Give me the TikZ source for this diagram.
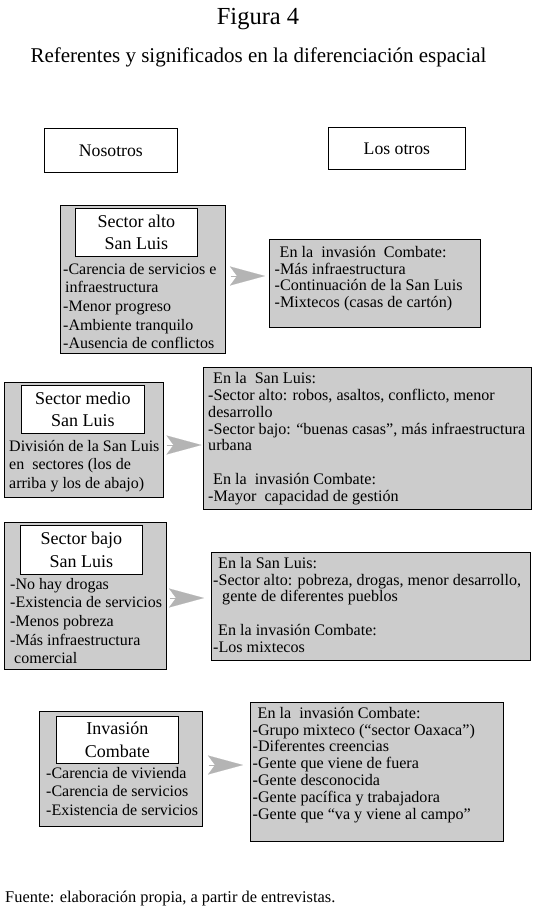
\documentclass[tikz,border=0pt]{standalone}
\usepackage{fontspec}
\setmainfont{Liberation Serif}
\usetikzlibrary{arrows.meta}
\definecolor{boxgray}{RGB}{204,204,204}
\definecolor{arrowgray}{RGB}{180,180,180}
\begin{document}
\begin{tikzpicture}[x=1pt,y=-1pt,
  gbox/.style={draw=black, line width=0.8pt, fill=boxgray, inner sep=0pt, anchor=north west},
  wbox/.style={draw=black, line width=0.8pt, fill=white, inner sep=0pt, anchor=north west, align=center, font=\fontsize{18}{22.5}\selectfont},
  hbox/.style={draw=black, line width=0.8pt, fill=white, inner sep=0pt, anchor=north west, font=\fontsize{17.7}{21}\selectfont},
  ltext/.style={anchor=north west, inner sep=0pt, align=left, font=\fontsize{16}{18.6}\selectfont},
  rtext/.style={anchor=north west, inner sep=0pt, align=left, font=\fontsize{16.1}{16.8}\selectfont},
  bigarrow/.style={draw=arrowgray, fill=arrowgray, line width=0.1pt, -{Stealth[length=35pt,width=19pt,inset=7pt]}}]
\useasboundingbox (0,0) rectangle (539,908);

% titles
\node[anchor=base, inner sep=0pt, font=\fontsize{24.5}{28}\selectfont] (title) at (258,24) {Figura 4};
\node[anchor=base, inner sep=0pt, font=\fontsize{21}{24}\selectfont] (subtitle) at (258.5,62) {Referentes y significados en la diferenciación espacial};

% headers
\node[hbox, minimum width=133pt, minimum height=44pt] (nos) at (44,128) {Nosotros};
\node[hbox, minimum width=137pt, minimum height=42pt] (otros) at (328,127) {Los otros};

% block 1
\node[gbox, minimum width=165pt, minimum height=148pt] (A1) at (60,205) {};
\node[wbox, minimum width=122pt, minimum height=48pt] (T1) at (75,208) {Sector alto\\San Luis};
\node[ltext] (L1) at (63,261) {\rule{0pt}{13pt}-Carencia de servicios e\\\hspace*{2pt}infraestructura\\-Menor progreso\\-Ambiente tranquilo\\-Ausencia de conflictos};
\node[gbox, minimum width=211pt, minimum height=88pt] (R1) at (269,239) {};
\node[rtext] (B1) at (274.5,245) {\rule{0pt}{12pt}\hspace*{5pt}En la\ \ invasión\ \ Combate:\\-Más infraestructura\\-Continuación de la San Luis\\-Mixtecos (casas de cartón)};
\coordinate (y1) at (0,276);
\draw[bigarrow, shorten <=5pt, shorten >=4pt] (A1.east |- y1) -- (R1.west |- y1);

% block 2
\node[gbox, minimum width=159pt, minimum height=115pt] (A2) at (4,382) {};
\node[wbox, minimum width=123pt, minimum height=48pt] (T2) at (21,385) {Sector medio\\San Luis};
\node[ltext] (L2) at (9,438) {\rule{0pt}{13pt}División de la San Luis\\en\ \ sectores (los de\\arriba y los de abajo)};
\node[gbox, minimum width=328pt, minimum height=142pt] (R2) at (202.5,367) {};
\node[rtext] (B2) at (208,371.5) {\rule{0pt}{12pt}\hspace*{5pt}En la\ \ San Luis:\\-Sector alto: robos, asaltos, conflicto, menor\\desarrollo\\-Sector bajo: “buenas casas”, más infraestructura\\urbana\\\mbox{}\\\hspace*{5pt}En la\ \ invasión Combate:\\-Mayor\ \ capacidad de gestión};
\coordinate (y2) at (0,445);
\draw[bigarrow, shorten <=3pt, shorten >=1pt] (A2.east |- y2) -- (R2.west |- y2);

% block 3
\node[gbox, minimum width=162pt, minimum height=147pt] (A3) at (4,522) {};
\node[wbox, minimum width=122pt, minimum height=49pt] (T3) at (20,525) {Sector bajo\\San Luis};
\node[ltext] (L3) at (10,576) {\rule{0pt}{13pt}-No hay drogas\\-Existencia de servicios\\-Menos pobreza\\-Más infraestructura\\\hspace*{4pt}comercial};
\node[gbox, minimum width=319pt, minimum height=108pt] (R3) at (211,552) {};
\node[rtext] (B3) at (213,556) {\rule{0pt}{12pt}\hspace*{5pt}En la San Luis:\\-Sector alto: pobreza, drogas, menor desarrollo,\\\hspace*{9pt}gente de diferentes pueblos\\\mbox{}\\\hspace*{5pt}En la invasión Combate:\\-Los mixtecos};
\coordinate (y3) at (0,598);
\draw[bigarrow, shorten <=3pt, shorten >=7pt] (A3.east |- y3) -- (R3.west |- y3);

% block 4
\node[gbox, minimum width=163pt, minimum height=115pt] (A4) at (39,711) {};
\node[wbox, minimum width=122pt, minimum height=47pt] (T4) at (56,716) {Invasión\\Combate};
\node[ltext] (L4) at (46,765) {\rule{0pt}{13pt}-Carencia de vivienda\\-Carencia de servicios\\-Existencia de servicios};
\node[gbox, minimum width=253pt, minimum height=139pt] (R4) at (250,702) {};
\node[rtext] (B4) at (252.5,706) {\rule{0pt}{12pt}\hspace*{5pt}En la\ \ invasión Combate:\\-Grupo mixteco (“sector Oaxaca”)\\-Diferentes creencias\\-Gente que viene de fuera\\-Gente desconocida\\-Gente pacífica y trabajadora\\-Gente que “va y viene al campo”};
\coordinate (y4) at (0,765);
\draw[bigarrow, shorten <=6pt, shorten >=7pt] (A4.east |- y4) -- (R4.west |- y4);

% footer
\node[anchor=base west, inner sep=0pt, font=\fontsize{16.4}{20}\selectfont] (fuente) at (5,902) {Fuente: elaboración propia, a partir de entrevistas.};
\end{tikzpicture}
\end{document}
